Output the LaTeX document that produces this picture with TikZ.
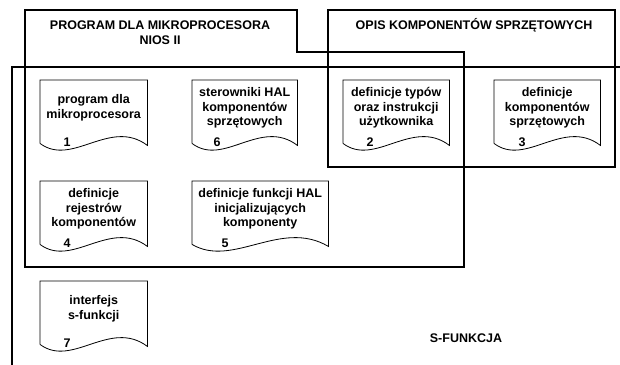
\documentclass[tikz,border=0pt]{standalone}
\usepackage{fontspec}
\setmainfont{Liberation Sans}
\usetikzlibrary{calc}
\tikzset{
  bigline/.style={draw=black, line width=1.9pt},
  docline/.style={draw=black, line width=0.8pt},
  docbody/.style={draw=none, inner sep=0pt, minimum height=63pt},
  doctext/.style={align=center, inner sep=0pt, font=\bfseries\fontsize{12.5}{14.5}\selectfont},
  titletext/.style={align=center, inner sep=0pt, font=\bfseries\fontsize{12.5}{15}\selectfont},
}
\newcommand\mydoc[7]{%
  \node[docbody, minimum width=#4pt, anchor=north west] (#1) at (#2,#3) {};
  \draw[docline] (#1.south west) -- (#1.north west) -- (#1.north east) -- ($(#1.south east)+(0,2)$)
    .. controls ($(#1.south east)+(-0.35*#4,-26)$) and ($(#1.south west)+(0.3*#4,24)$) .. (#1.south west);
  \node[doctext] (#1t) at ($(#1.north)+(0,28)$) {#5};
  \node[doctext] (#1n) at ($(#1.south west)+(#7,-1)$) {#6};
}
\begin{document}
\begin{tikzpicture}[x=1pt,y=-1pt]
\useasboundingbox (0,0) rectangle (620,364);
% S-function frame
\draw[bigline] (620,67) -- (12,67) -- (12,366);
% NIOS II program frame
\draw[bigline] (25,10) -- (297,10) -- (297,52) -- (464,52) -- (464,267) -- (25,267) -- cycle;
% hardware description frame
\draw[bigline] (328,10) rectangle (615,167);
\node[titletext] (tprog) at (160,32.5) {PROGRAM DLA MIKROPROCESORA\\NIOS II};
\node[titletext] (topis) at (474,25) {OPIS KOMPONENTÓW SPRZĘTOWYCH};
\node[titletext] (tsf) at (466,338) {S-FUNKCJA};
\mydoc{d1}{40}{80}{107}{program dla\\mikroprocesora}{1}{27}
\mydoc{d6}{192}{80}{105}{sterowniki HAL\\komponentów\\sprzętowych}{6}{25}
\mydoc{d2}{343}{80}{106}{definicje typów\\oraz instrukcji\\użytkownika}{2}{27}
\mydoc{d3}{494}{80}{106}{definicje\\komponentów\\sprzętowych}{3}{28}
\mydoc{d4}{40}{181}{107}{definicje\\rejestrów\\komponentów}{4}{27}
\mydoc{d5}{192}{181}{136}{definicje funkcji HAL\\inicjalizujących\\komponenty}{5}{33}
\mydoc{d7}{40}{281}{107}{interfejs\\s-funkcji}{7}{27}
\end{tikzpicture}
\end{document}
